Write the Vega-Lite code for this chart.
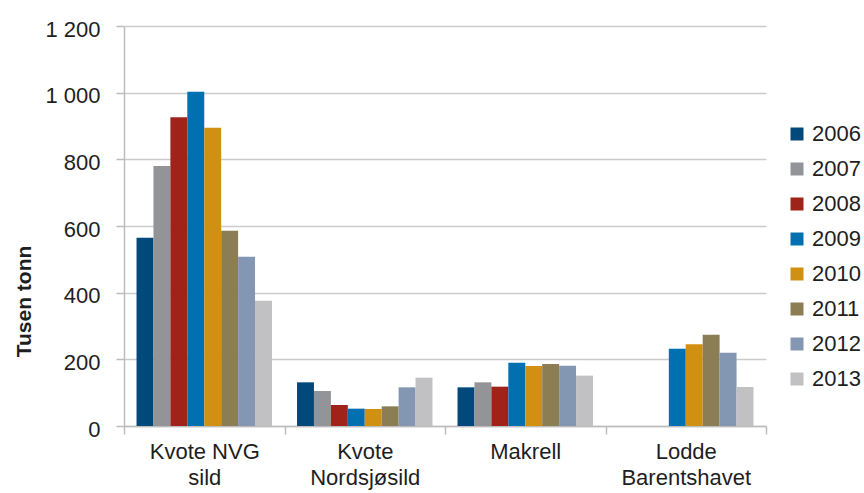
{
  "$schema": "https://vega.github.io/schema/vega-lite/v6.json",
  "autosize": "none",
  "padding": {"left": 124, "top": 26, "right": 98, "bottom": 67},
  "width": 642,
  "height": 400,
  "background": "white",
  "data": {
    "values": [
      {"kategori": "Kvote NVG|sild", "aar": "2006", "verdi": 565},
      {"kategori": "Kvote NVG|sild", "aar": "2007", "verdi": 780},
      {"kategori": "Kvote NVG|sild", "aar": "2008", "verdi": 926},
      {"kategori": "Kvote NVG|sild", "aar": "2009", "verdi": 1003},
      {"kategori": "Kvote NVG|sild", "aar": "2010", "verdi": 895},
      {"kategori": "Kvote NVG|sild", "aar": "2011", "verdi": 586},
      {"kategori": "Kvote NVG|sild", "aar": "2012", "verdi": 508},
      {"kategori": "Kvote NVG|sild", "aar": "2013", "verdi": 376},
      {"kategori": "Kvote|Nordsjøsild", "aar": "2006", "verdi": 131},
      {"kategori": "Kvote|Nordsjøsild", "aar": "2007", "verdi": 105},
      {"kategori": "Kvote|Nordsjøsild", "aar": "2008", "verdi": 63},
      {"kategori": "Kvote|Nordsjøsild", "aar": "2009", "verdi": 52},
      {"kategori": "Kvote|Nordsjøsild", "aar": "2010", "verdi": 51},
      {"kategori": "Kvote|Nordsjøsild", "aar": "2011", "verdi": 59},
      {"kategori": "Kvote|Nordsjøsild", "aar": "2012", "verdi": 116},
      {"kategori": "Kvote|Nordsjøsild", "aar": "2013", "verdi": 145},
      {"kategori": "Makrell", "aar": "2006", "verdi": 116},
      {"kategori": "Makrell", "aar": "2007", "verdi": 131},
      {"kategori": "Makrell", "aar": "2008", "verdi": 118},
      {"kategori": "Makrell", "aar": "2009", "verdi": 190},
      {"kategori": "Makrell", "aar": "2010", "verdi": 180},
      {"kategori": "Makrell", "aar": "2011", "verdi": 186},
      {"kategori": "Makrell", "aar": "2012", "verdi": 181},
      {"kategori": "Makrell", "aar": "2013", "verdi": 151},
      {"kategori": "Lodde|Barentshavet", "aar": "2009", "verdi": 232},
      {"kategori": "Lodde|Barentshavet", "aar": "2010", "verdi": 245},
      {"kategori": "Lodde|Barentshavet", "aar": "2011", "verdi": 274},
      {"kategori": "Lodde|Barentshavet", "aar": "2012", "verdi": 220},
      {"kategori": "Lodde|Barentshavet", "aar": "2013", "verdi": 117}
    ]
  },
  "mark": {"type": "bar"},
  "encoding": {
    "x": {
      "field": "kategori",
      "type": "nominal",
      "sort": ["Kvote NVG|sild", "Kvote|Nordsjøsild", "Makrell", "Lodde|Barentshavet"],
      "scale": {"paddingInner": 0, "paddingOuter": 0},
      "axis": {
        "title": null,
        "labelAngle": 0,
        "labelExpr": "split(datum.label, '|')",
        "labelFont": "Liberation Sans",
        "labelFontSize": 22,
        "labelColor": "#1e1e1e",
        "labelLineHeight": 26,
        "labelPadding": 7,
        "tickBand": "extent",
        "tickSize": 8,
        "tickColor": "#bdbdbd",
        "domainColor": "#bdbdbd",
        "domainWidth": 1.5,
        "tickWidth": 1.5,
        "grid": false
      }
    },
    "xOffset": {
      "field": "aar",
      "type": "nominal",
      "scale": {"paddingInner": 0, "paddingOuter": 0.74}
    },
    "y": {
      "field": "verdi",
      "type": "quantitative",
      "scale": {"domain": [0, 1200], "nice": false},
      "axis": {
        "title": "Tusen tonn",
        "titleFont": "Liberation Sans",
        "titleFontSize": 21,
        "titleFontWeight": "bold",
        "titleColor": "#1e1e1e",
        "titleX": -94,
        "titleY": 275,
        "titleAngle": -90,
        "titleAlign": "center",
        "titleBaseline": "alphabetic",
        "values": [0, 200, 400, 600, 800, 1000, 1200],
        "labelExpr": "replace(format(datum.value, ','), ',', ' ')",
        "labelFont": "Liberation Sans",
        "labelFontSize": 22,
        "labelColor": "#1e1e1e",
        "labelPadding": 16,
        "labelOffset": 3,
        "tickSize": 8,
        "tickColor": "#bdbdbd",
        "tickWidth": 1.5,
        "domainColor": "#bdbdbd",
        "domainWidth": 1.5,
        "grid": true,
        "gridColor": "#cbcbcb",
        "gridWidth": 1.5
      }
    },
    "color": {
      "field": "aar",
      "type": "nominal",
      "scale": {
        "domain": ["2006", "2007", "2008", "2009", "2010", "2011", "2012", "2013"],
        "range": ["#00497a", "#939498", "#a0231a", "#0070b0", "#d09112", "#8b7e55", "#8396b2", "#c1c1c3"]
      },
      "legend": {
        "title": null,
        "orient": "none",
        "legendX": 660,
        "legendY": 95,
        "padding": 2,
        "symbolType": "square",
        "symbolSize": 169,
        "symbolStrokeWidth": 0,
        "labelFont": "Liberation Sans",
        "labelFontSize": 22,
        "labelColor": "#1e1e1e",
        "labelOffset": 4,
        "rowPadding": 13
      }
    }
  },
  "config": {"view": {"stroke": null}}
}
